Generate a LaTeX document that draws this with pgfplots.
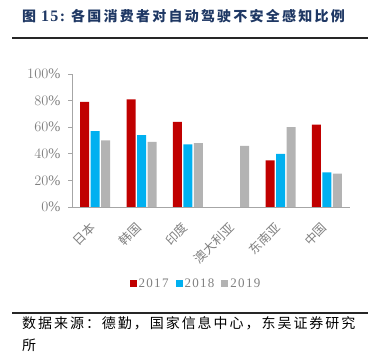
\documentclass[border=0pt]{standalone}
\usepackage{pgfplots}
\pgfplotsset{compat=1.18}
\usepackage{fontspec}
\setmainfont{Liberation Serif}
\newfontfamily\cjk{Noto Sans CJK SC}
\definecolor{cred}{HTML}{C00000}
\definecolor{cblue}{HTML}{00B0F0}
\definecolor{cgray}{HTML}{B3B3B3}
\definecolor{axgray}{HTML}{A6A6A6}
\definecolor{txtgray}{HTML}{7F7F7F}
\definecolor{titleblue}{HTML}{1F3864}
\begin{document}
\begin{tikzpicture}
\path[use as bounding box] (0pt,0pt) rectangle (378pt,353pt);
% title
\node[anchor=west, inner sep=0pt, text=titleblue] at (22pt,337pt)
  {\cjk\bfseries\fontsize{14}{16}\selectfont 图\hspace{5pt}{\rmfamily\bfseries\fontsize{16}{16}\selectfont\addfontfeature{LetterSpace=8}15:}\hspace{6pt}\addfontfeature{LetterSpace=16}各国消费者对自动驾驶不安全感知比例};
\draw[line width=1.3pt, black!85] (12pt,315pt) -- (368pt,315pt);
\draw[line width=1.3pt, black!85] (12pt,40pt) -- (368pt,40pt);
\node[anchor=west, inner sep=0pt] at (22pt,30pt)
  {\cjk\fontsize{14}{16}\selectfont\addfontfeature{LetterSpace=14}数据来源：德勤，国家信息中心，东吴证券研究};
\node[anchor=west, inner sep=0pt] at (22pt,8pt)
  {\cjk\fontsize{14}{16}\selectfont 所};
\begin{axis}[
  at={(72pt,146pt)}, anchor=south west, scale only axis,
  width=278pt, height=133pt,
  ymin=0, ymax=100, xmin=-0.5, xmax=5.5,
  axis lines=left, axis line style={axgray, -, line width=0.8pt},
  tick align=outside,
  ytick={0,20,...,100},
  yticklabel={\pgfmathprintnumber{\tick}\%},
  yticklabel style={text=txtgray, font=\fontsize{14.5}{16}\selectfont},
  yticklabel shift=4pt,
  ytick style={axgray, line width=0.8pt},
  major tick length=4pt,
  xtick={0,...,5},
  xticklabels={日本,韩国,印度,澳大利亚,东南亚,中国},
  xtick style={draw=none},
  minor xtick={-0.5,0.5,...,5.5},
  minor x tick style={axgray, line width=0.8pt},
  minor tick length=4pt,
  xticklabel style={yshift=-12pt, rotate=45, anchor=east, text=txtgray,
     font=\cjk\fontsize{12.5}{14}\selectfont},
  ybar=1.5pt, bar width=9pt,
  legend style={at={(0.446,0)}, anchor=center, yshift=-77pt, draw=none,
     fill=none, legend columns=3, font=\fontsize{13}{15}\selectfont\addfontfeature{LetterSpace=10},
     text=txtgray, /tikz/every even column/.append style={column sep=5pt}},
  legend image code/.code={\path[#1, draw=none] (0pt,-3.5pt) rectangle (7pt,3.5pt);},
]
\addplot[fill=cred, draw=none] coordinates {(0,79) (1,81) (2,64) (4,35) (5,62)};
\addplot[fill=cblue, draw=none] coordinates {(0,57) (1,54) (2,47) (4,40) (5,26)};
\addplot[fill=cgray, draw=none] coordinates {(0,50) (1,49) (2,48) (3,46) (4,60) (5,25)};
\legend{2017,2018,2019}
\end{axis}
\end{tikzpicture}
\end{document}
